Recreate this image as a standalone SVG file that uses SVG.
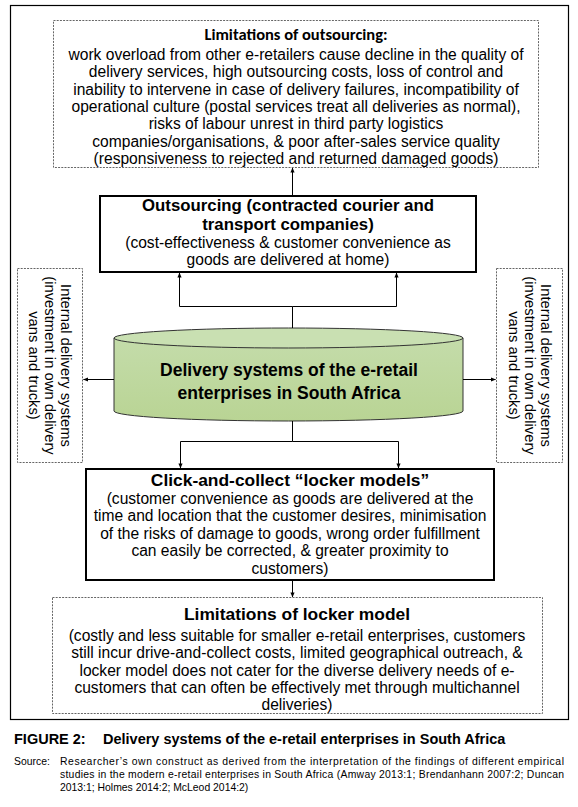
<svg xmlns="http://www.w3.org/2000/svg" width="578" height="807" viewBox="0 0 578 807">
<style>
.frame{fill:none;stroke:#000;stroke-width:1.2}
.dash{fill:#fff;stroke:#666;stroke-width:1;stroke-dasharray:2 1.2}
.solid{fill:#fff;stroke:#000;stroke-width:2}
.t{font-family:"Liberation Sans",Arial,sans-serif;font-size:15.6px;fill:#000;text-anchor:middle}
.tb{font-family:"Liberation Sans",Arial,sans-serif;font-size:17.4px;font-weight:bold;fill:#000;text-anchor:middle}
.ob{font-family:"Liberation Sans",Arial,sans-serif;font-size:16.8px;font-weight:bold;fill:#000;text-anchor:middle}
.cb{font-family:"Liberation Sans",Arial,sans-serif;font-size:17.5px;font-weight:bold;fill:#000;text-anchor:middle}
.cal{font-family:Carlito,Lato,"Open Sans",sans-serif;font-size:16.5px;font-weight:bold;fill:#000;text-anchor:middle}
.rt{font-family:"Liberation Sans",Arial,sans-serif;font-size:14.8px;fill:#000;text-anchor:middle}
.con{fill:none;stroke:#000;stroke-width:1}
.cap{font-family:"Liberation Sans",Arial,sans-serif;font-size:14.5px;font-weight:bold;fill:#000}
.src{font-family:"Liberation Sans",Arial,sans-serif;font-size:10.4px;fill:#000}
</style>
<defs>
<marker id="ah" viewBox="0 0 6 6" refX="5.5" refY="3" markerWidth="5" markerHeight="5" orient="auto" markerUnits="userSpaceOnUse">
<path d="M0,0.5 L6,3 L0,5.5 z" fill="#000"/>
</marker>
<linearGradient id="cyl" x1="0" y1="0" x2="0" y2="1">
<stop offset="0" stop-color="#c4dcaa"/>
<stop offset="1" stop-color="#b9d494"/>
</linearGradient>
</defs>
<rect class="frame" x="10.5" y="5.5" width="558" height="714"/>

<g id="limits-outsourcing">
<rect class="dash" x="53.5" y="20.5" width="485" height="147"/>
<text class="cal" x="296" y="40">Limitations of outsourcing:</text>
<text class="t" x="296" y="60">work overload from other e-retailers cause decline in the quality of</text>
<text class="t" x="296" y="77.3">delivery services, high outsourcing costs, loss of control and</text>
<text class="t" x="296" y="94.6">inability to intervene in case of delivery failures, incompatibility of</text>
<text class="t" x="296" y="111.9">operational culture (postal services treat all deliveries as normal),</text>
<text class="t" x="296" y="129.2">risks of labour unrest in third party logistics</text>
<text class="t" x="296" y="146.5">companies/organisations, &amp; poor after-sales service quality</text>
<text class="t" x="296" y="163.8">(responsiveness to rejected and returned damaged goods)</text>
</g>

<g id="outsourcing">
<rect class="solid" x="100" y="196" width="376" height="76"/>
<text class="ob" x="288" y="210.5">Outsourcing (contracted courier and</text>
<text class="ob" x="288" y="229.5">transport companies)</text>
<text class="t" x="288" y="247.8">(cost-effectiveness &amp; customer convenience as</text>
<text class="t" x="288" y="265">goods are delivered at home)</text>
</g>

<g id="internal-left">
<rect class="dash" x="17.5" y="268.5" width="65" height="194"/>
<g transform="translate(50,365.5) rotate(90)">
<text class="rt" x="0" y="-11">Internal delivery systems</text>
<text class="rt" x="0" y="5">(investment in own delivery</text>
<text class="rt" x="0" y="21">vans and trucks)</text>
</g>
</g>

<g id="internal-right">
<rect class="dash" x="496.5" y="268.5" width="66" height="194"/>
<g transform="translate(530,365.5) rotate(90)">
<text class="rt" x="0" y="-11">Internal delivery systems</text>
<text class="rt" x="0" y="5">(investment in own delivery</text>
<text class="rt" x="0" y="21">vans and trucks)</text>
</g>
</g>

<g id="delivery-systems">
<path d="M114,338 L114,411 A174.5,10 0 0 0 463,411 L463,338" fill="url(#cyl)" stroke="#333" stroke-width="1"/>
<ellipse cx="288.5" cy="338" rx="174.5" ry="10" fill="#c9e0b2" stroke="#333" stroke-width="1"/>
<text class="cb" x="289" y="376">Delivery systems of the e-retail</text>
<text class="cb" x="289" y="398.5">enterprises in South Africa</text>
</g>

<g id="click-collect">
<rect class="solid" x="86" y="469" width="408" height="111"/>
<text class="tb" x="290" y="486">Click-and-collect “locker models”</text>
<text class="t" x="290" y="503.5">(customer convenience as goods are delivered at the</text>
<text class="t" x="290" y="521">time and location that the customer desires, minimisation</text>
<text class="t" x="290" y="538.5">of the risks of damage to goods, wrong order fulfillment</text>
<text class="t" x="290" y="556">can easily be corrected, &amp; greater proximity to</text>
<text class="t" x="290" y="573.5">customers)</text>
</g>

<g id="limits-locker">
<rect class="dash" x="52.5" y="597.5" width="490" height="116"/>
<text class="tb" x="297" y="620">Limitations of locker model</text>
<text class="t" x="297" y="641">(costly and less suitable for smaller e-retail enterprises, customers</text>
<text class="t" x="297" y="658.3">still incur drive-and-collect costs, limited geographical outreach, &amp;</text>
<text class="t" x="297" y="675.6">locker model does not cater for the diverse delivery needs of e-</text>
<text class="t" x="297" y="692.9">customers that can often be effectively met through multichannel</text>
<text class="t" x="297" y="710.2">deliveries)</text>
</g>

<g id="connectors">
<line class="con" x1="292.5" y1="196" x2="292.5" y2="168" marker-end="url(#ah)"/>
<polyline class="con" points="292.5,328 292.5,306.5 179.5,306.5 179.5,273" marker-end="url(#ah)"/>
<polyline class="con" points="292.5,306.5 396.5,306.5 396.5,273" marker-end="url(#ah)"/>
<line class="con" x1="114" y1="379.5" x2="83.5" y2="379.5" marker-end="url(#ah)"/>
<line class="con" x1="463" y1="379.5" x2="495.5" y2="379.5" marker-end="url(#ah)"/>
<polyline class="con" points="292.5,421 292.5,441.5 180.5,441.5 180.5,468" marker-end="url(#ah)"/>
<polyline class="con" points="292.5,441.5 398.5,441.5 398.5,468" marker-end="url(#ah)"/>
<line class="con" x1="292.5" y1="581" x2="292.5" y2="597" marker-end="url(#ah)"/>
</g>

<g id="caption">
<text class="cap" x="14" y="744">FIGURE 2:</text>
<text class="cap" x="103" y="744">Delivery systems of the e-retail enterprises in South Africa</text>
<text class="src" x="14" y="765">Source:</text>
<text class="src" x="60" y="765" textLength="504" lengthAdjust="spacing">Researcher’s own construct as derived from the interpretation of the findings of different empirical</text>
<text class="src" x="60" y="778" textLength="504" lengthAdjust="spacing">studies in the modern e-retail enterprises in South Africa (Amway 2013:1; Brendanhann 2007:2; Duncan</text>
<text class="src" x="60" y="791">2013:1; Holmes 2014:2; McLeod 2014:2)</text>
</g>
</svg>
